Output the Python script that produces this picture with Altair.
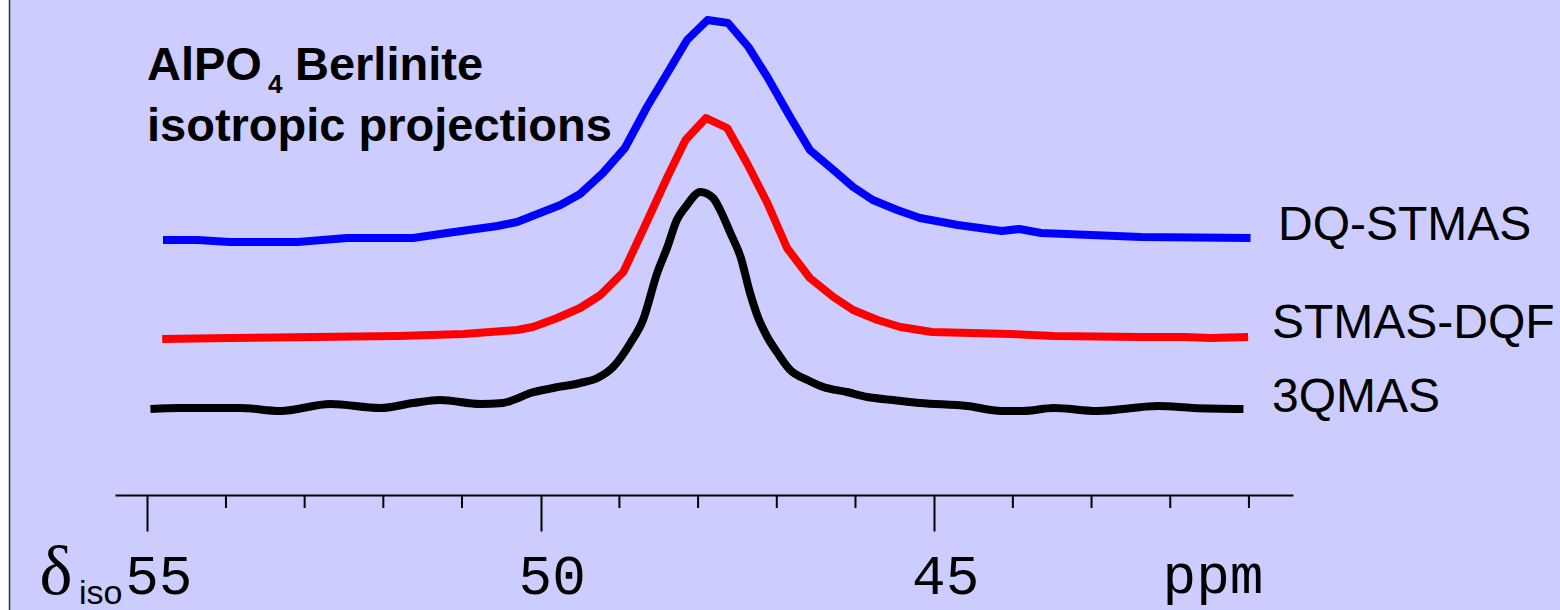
import altair as alt
import pandas as pd

# ---- data (ppm, intensity in arbitrary units above the axis) ----
series_names = ["DQ-STMAS", "STMAS-DQF", "3QMAS"]
series_colors = ["#0000ff", "#ff0000", "#000000"]
series_widths = [8, 8, 8]
series_interp = ["linear", "linear", "monotone"]

dq_ppm = [54.80, 54.36, 53.95, 53.09, 52.46, 51.62, 51.19, 50.55, 50.30, 50.01, 49.75, 49.50,
          49.21, 48.93, 48.65, 48.39, 48.14, 47.88, 47.62, 47.36, 47.12, 46.83, 46.58, 46.28,
          46.03, 45.78, 45.47, 45.18, 44.70, 44.14, 43.92, 43.64, 42.37, 40.98]
dq_int = [255, 255, 253, 253, 257, 257, 262, 269, 273, 282, 290, 301,
          322, 347, 388, 422, 455, 475, 472, 448, 418, 378, 345, 325,
          308, 295, 285, 277, 270, 264, 266, 262, 258, 257]

dqf_ppm = [54.81, 53.95, 52.89, 51.82, 50.98, 50.30, 50.10, 49.79, 49.50, 49.24, 48.95, 48.70,
           48.39, 48.16, 47.90, 47.63, 47.38, 47.12, 46.87, 46.58, 46.28, 46.03, 45.72, 45.43,
           45.03, 44.03, 43.48, 42.37, 41.82, 41.49, 41.01]
dqf_int = [156, 157, 158, 159, 161, 165, 168, 177, 187, 200, 223, 265,
           318, 355, 377, 367, 332, 292, 247, 217, 198, 185, 175, 168,
           163, 161, 159, 158, 158, 157, 158]

mq_ppm = [54.96, 54.58, 53.82, 53.31, 52.67, 52.04, 51.62, 51.28, 50.77, 50.48, 50.35, 50.13,
          49.84, 49.50, 49.28, 49.08, 48.86, 48.70, 48.52, 48.39, 48.27, 48.16, 47.97, 47.81,
          47.72, 47.59, 47.46, 47.34, 47.24, 47.12, 46.99, 46.83, 46.61, 46.41, 46.11, 45.85,
          45.52, 45.18, 44.58, 44.14, 43.87, 43.48, 42.93, 42.15, 41.71, 41.07]
mq_int = [86, 87, 87, 84, 91, 87, 92, 95, 91, 92, 95, 102,
          107, 112, 117, 128, 152, 175, 222, 248, 275, 288, 303, 297,
          285, 262, 238, 202, 178, 158, 142, 125, 115, 108, 103, 98,
          95, 92, 89, 84, 84, 87, 84, 89, 87, 86]

major_ticks = [55, 50, 45]
minor_ticks = [54, 53, 52, 51, 49, 48, 47, 46, 44, 43, 42, 41]

W, H = 1178, 495
LEFT = 115
x_scale = alt.Scale(domain=[40.44, 55.41], reverse=True, nice=False, zero=False)
y_scale = alt.Scale(domain=[0, 495], nice=False, zero=False)

x_axis = alt.Axis(values=major_ticks, format="d", grid=False, title=None,
                  tickSize=36, tickWidth=2, tickColor="black",
                  domainColor="black", domainWidth=2,
                  labelFont="Liberation Mono", labelFontSize=56, labelColor="black",
                  labelBaseline="alphabetic", labelPadding=62, labelOffset=11,
                  labelFlush=False, labelOverlap=False)

line_layers = []
for k, (name, xs, ys) in enumerate(zip(series_names, [dq_ppm, dqf_ppm, mq_ppm], [dq_int, dqf_int, mq_int])):
    d = pd.DataFrame({"ppm": xs, "intensity": ys, "order": list(range(len(xs)))})
    line_layers.append(
        alt.Chart(d).mark_line(interpolate=series_interp[k], strokeJoin="round", strokeCap="butt").encode(
            x=alt.X("ppm:Q", scale=x_scale, axis=x_axis),
            y=alt.Y("intensity:Q", scale=y_scale, axis=None),
            order="order:Q",
            color=alt.value(series_colors[k]),
            strokeWidth=alt.value(series_widths[k]),
        )
    )

minor = alt.Chart(pd.DataFrame({"ppm": minor_ticks})).mark_rule(color="black", strokeWidth=2).encode(
    x=alt.X("ppm:Q", scale=x_scale, axis=x_axis),
    y=alt.value(H),
    y2=alt.value(H + 13),
)

# left white strip and dark edge line
strip = alt.Chart(pd.DataFrame({"a": [0]})).mark_rect(color="white").encode(
    x=alt.value(-LEFT), x2=alt.value(-LEFT + 9), y=alt.value(0), y2=alt.value(610))
edge = alt.Chart(pd.DataFrame({"a": [0]})).mark_rule(color="#333333", strokeWidth=1.5).encode(
    x=alt.value(-LEFT + 9.5), y=alt.value(0), y2=alt.value(610))

def txt(text, x, y, size, font="Liberation Sans", weight="normal", align="left"):
    # x, y are page pixels; converted to plot coordinates
    return alt.Chart(pd.DataFrame({"t": [text]})).mark_text(
        font=font, fontSize=size, fontWeight=weight, align=align, baseline="alphabetic", color="black"
    ).encode(x=alt.value(x - LEFT), y=alt.value(y), text="t:N")

texts = [
    txt("AlPO", 147, 80, 47, weight="bold"),
    txt("4", 268, 93, 26, weight="bold"),
    txt("Berlinite", 295, 80, 47, weight="bold"),
    txt("isotropic projections", 147, 141, 47, weight="bold"),
    txt("δ", 56, 594, 70, font="Liberation Serif", align="center"),
    txt("iso", 79, 604, 34),
    txt("ppm", 1213, 593, 56, font="Liberation Mono", align="center"),
    txt("DQ-STMAS", 1278, 240, 48),
    txt("STMAS-DQF", 1272, 338, 48),
    txt("3QMAS", 1272, 412, 48),
]

chart = alt.layer(strip, edge, *line_layers, minor, *texts).properties(
    width=W, height=H,
    background="#ccccff",
    padding={"left": LEFT, "top": 0, "right": 1560 - LEFT - W, "bottom": 610 - H},
    autosize=alt.AutoSizeParams(type="none"),
).configure_view(stroke="transparent")

chart.save("out.html", embed_options={"renderer": "svg", "actions": False})
